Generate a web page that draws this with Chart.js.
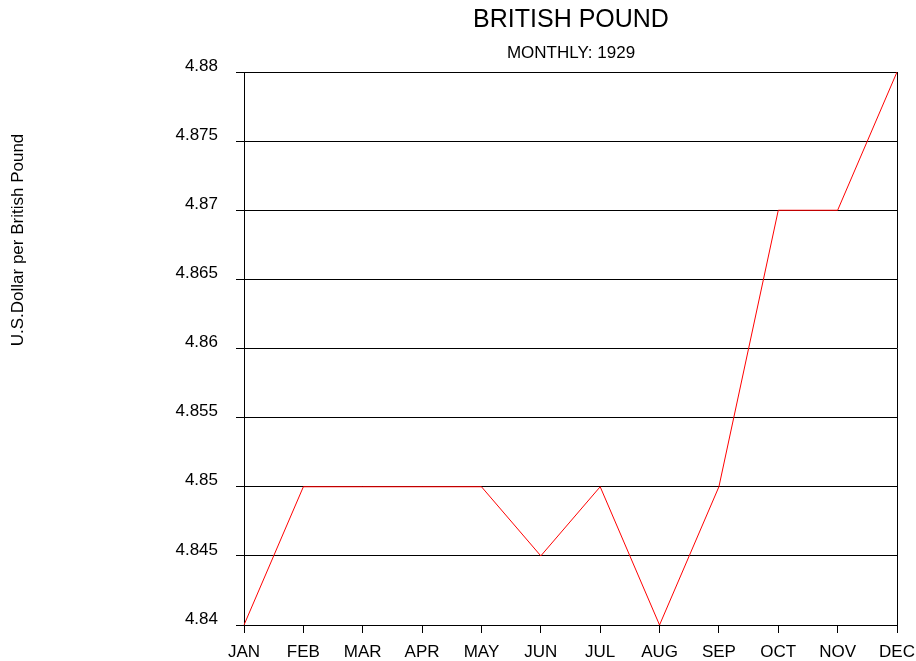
<!DOCTYPE html>
<html>
<head>
<meta charset="utf-8">
<script src="https://cdn.jsdelivr.net/npm/chart.js@4"></script>
<style>
  html, body { margin: 0; padding: 0; background: #fff; }
  #wrap { width: 916px; height: 661px; position: relative; }
</style>
</head>
<body>
<div id="wrap"><canvas id="poundChart"></canvas></div>
<script>
// data
var months = ['JAN','FEB','MAR','APR','MAY','JUN','JUL','AUG','SEP','OCT','NOV','DEC'];
var rates = [4.84, 4.85, 4.85, 4.85, 4.85, 4.845, 4.85, 4.84, 4.85, 4.87, 4.87, 4.88];
var yTicks = [4.84, 4.845, 4.85, 4.855, 4.86, 4.865, 4.87, 4.875, 4.88];

var mainTitle = 'BRITISH POUND';
var subTitle = 'MONTHLY: 1929';
var yLabel = 'U.S.Dollar per British Pound';

var FONT = '"Liberation Sans", Arial, sans-serif';

// titles, y label and right border
var decor = {
    id: 'decor',
    afterDraw: function(chart){
        var ctx = chart.ctx;
        var a = chart.chartArea;
        ctx.save();
        ctx.strokeStyle = '#000';
        ctx.lineWidth = 1;
        ctx.beginPath();
        ctx.moveTo(a.right + 0.5, a.top);
        ctx.lineTo(a.right + 0.5, a.bottom);
        ctx.stroke();

        ctx.fillStyle = '#000';
        ctx.textAlign = 'center';
        ctx.textBaseline = 'middle';
        ctx.font = '25px ' + FONT;
        ctx.fillText(mainTitle, 571, 20);
        ctx.font = '17px ' + FONT;
        ctx.fillText(subTitle, 571, 53);

        ctx.translate(18, 240);
        ctx.rotate(-Math.PI / 2);
        ctx.font = '17px ' + FONT;
        ctx.fillText(yLabel, 0, 0);
        ctx.restore();
    }
};

var ctx = document.getElementById('poundChart').getContext('2d');
var chart = new Chart(ctx, {
    type: 'line',
    data: {
        labels: months,
        datasets: [{
            data: rates,
            borderColor: '#ff0000',
            borderWidth: 1,
            pointRadius: 0,
            tension: 0,
            fill: false
        }]
    },
    options: {
        responsive: true,
        maintainAspectRatio: false,
        animation: false,
        layout: { padding: { left: 0, right: 19, top: 72, bottom: 0 } },
        plugins: {
            legend: { display: false },
            title: { display: false },
            tooltip: { enabled: false }
        },
        scales: {
            x: {
                offset: false,
                grid: { drawOnChartArea: false, drawTicks: true, tickLength: 8, color: '#000' },
                border: { display: true, color: '#000', width: 1 },
                ticks: { color: '#000', font: { family: FONT, size: 17 }, padding: 9, maxRotation: 0, autoSkip: false },
                afterFit: function(scale){
                    scale.height = 36;
                    scale.paddingLeft = 0;
                    scale.paddingRight = 0;
                }
            },
            y: {
                min: 4.84,
                max: 4.88,
                afterBuildTicks: function(scale){
                    scale.ticks = yTicks.map(function(v){ return { value: v }; });
                },
                grid: { color: '#000', lineWidth: 1, tickLength: 8 },
                border: { display: true, color: '#000', width: 1 },
                ticks: {
                    color: '#000',
                    font: { family: FONT, size: 17 },
                    padding: 18,
                    labelOffset: -6,
                    callback: function(v){ return String(Math.round(v * 1000) / 1000); }
                },
                afterFit: function(scale){ scale.width = 244; }
            }
        }
    },
    plugins: [decor]
});
</script>
</body>
</html>
